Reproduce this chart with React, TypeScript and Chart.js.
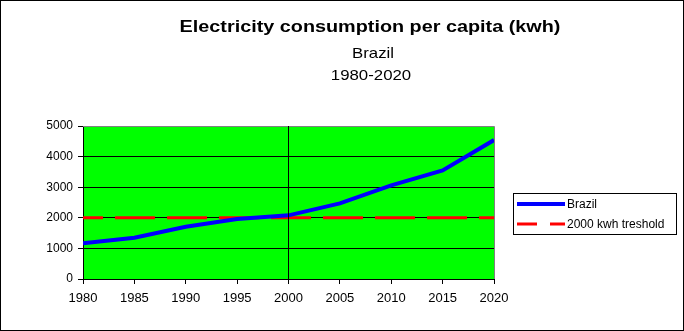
import React, { useEffect, useRef } from 'react';
import { Chart, registerables } from 'chart.js';

Chart.register(...registerables);

const years = [1980, 1985, 1990, 1995, 2000, 2005, 2010, 2015, 2020];
const brazilValues = [1170, 1350, 1710, 1960, 2080, 2470, 3060, 3550, 4540];
const thresholdYears = [1980, 2020];
const thresholdValues = [2000, 2000];
const markerYears = [2000, 2000];
const markerValues = [0, 5000];
const yMin = 0;
const yMax = 5000;
const yStep = 1000;
const xMin = 1980;
const xMax = 2020;
const xStep = 5;
const titleText = 'Electricity consumption per capita (kwh)';
const subtitleLines = ['Brazil', '1980-2020'];
const seriesLabels = ['Brazil', '2000 kwh treshold'];

const FONT = '"Liberation Sans", Arial, sans-serif';

function stretchedText(ctx: any, text: string, cx: number, y: number, sx: number) {
  ctx.save();
  ctx.translate(cx, y);
  ctx.scale(sx, 1);
  ctx.fillText(text, 0, 0);
  ctx.restore();
}

const decorPlugin = {
  id: 'decor',
  beforeDraw(chart: any) {
    const { ctx, chartArea: a, width, height } = chart;
    ctx.save();
    ctx.fillStyle = '#ffffff';
    ctx.fillRect(0, 0, width, height);
    ctx.fillStyle = '#00ff00';
    ctx.fillRect(a.left, a.top, a.right - a.left, a.bottom - a.top);
    ctx.restore();
  },
  beforeDatasetsDraw(chart: any) {
    const { ctx, chartArea: a } = chart;
    ctx.save();
    ctx.strokeStyle = '#808080';
    ctx.lineWidth = 1;
    ctx.beginPath();
    ctx.moveTo(a.left, Math.round(a.top) + 0.5);
    ctx.lineTo(Math.round(a.right) + 0.5, Math.round(a.top) + 0.5);
    ctx.lineTo(Math.round(a.right) + 0.5, a.bottom);
    ctx.stroke();
    ctx.restore();
  },
  afterDraw(chart: any) {
    const { ctx, width, height } = chart;
    ctx.save();
    // outer border
    ctx.strokeStyle = '#000';
    ctx.lineWidth = 1;
    ctx.strokeRect(0.5, 0.5, width - 1, height - 1);

    // titles
    ctx.fillStyle = '#000';
    ctx.textAlign = 'center';
    ctx.textBaseline = 'alphabetic';
    ctx.font = `bold 17px ${FONT}`;
    stretchedText(ctx, titleText, 370, 32, 1.165);
    ctx.font = `15px ${FONT}`;
    stretchedText(ctx, subtitleLines[0], 373, 58, 1.12);
    stretchedText(ctx, subtitleLines[1], 371, 80, 1.12);

    // legend
    const bx = 513, by = 193, bw = 163, bh = 41;
    ctx.fillStyle = '#fff';
    ctx.fillRect(bx, by, bw, bh);
    ctx.strokeStyle = '#000';
    ctx.strokeRect(bx + 0.5, by + 0.5, bw, bh);
    const ds = chart.data.datasets;
    const rows = [
      { d: ds[1], label: seriesLabels[0], y: 204, dash: [] as number[] },
      { d: ds[2], label: seriesLabels[1], y: 224, dash: [20, 13] },
    ];
    ctx.textAlign = 'left';
    ctx.textBaseline = 'middle';
    ctx.font = `12px ${FONT}`;
    rows.forEach((r) => {
      ctx.strokeStyle = r.d.borderColor;
      ctx.lineWidth = r.d.borderWidth;
      ctx.setLineDash(r.dash);
      ctx.beginPath();
      ctx.moveTo(517, r.y);
      ctx.lineTo(565, r.y);
      ctx.stroke();
      ctx.setLineDash([]);
      ctx.fillStyle = '#000';
      ctx.fillText(r.label, 567, r.y + 1);
    });
    ctx.restore();
  },
};

export default function App() {
  const ref = useRef<HTMLCanvasElement | null>(null);
  useEffect(() => {
    document.body.style.margin = '0';
    const canvas = ref.current;
    if (!canvas) return;
    const chart = new Chart(canvas, {
      type: 'line',
      data: {
        datasets: [
          {
            label: 'marker',
            data: markerYears.map((x, i) => ({ x, y: markerValues[i] })),
            borderColor: '#000000',
            borderWidth: 1,
            pointRadius: 0,
            order: 0,
          },
          {
            label: seriesLabels[0],
            data: years.map((x, i) => ({ x, y: brazilValues[i] })),
            borderColor: '#0000ff',
            borderWidth: 4,
            pointRadius: 0,
            order: 1,
          },
          {
            label: seriesLabels[1],
            data: thresholdYears.map((x, i) => ({ x, y: thresholdValues[i] })),
            borderColor: '#ff0000',
            borderWidth: 3,
            borderDash: [40, 12],
            borderDashOffset: 20,
            pointRadius: 0,
            order: 2,
          },
        ],
      },
      options: {
        responsive: false,
        animation: false,
        events: [],
        layout: { padding: { left: 0, top: 126, right: 190, bottom: 0 } },
        plugins: {
          legend: { display: false },
          title: { display: false },
          tooltip: { enabled: false },
        },
        scales: {
          x: {
            type: 'linear',
            min: xMin,
            max: xMax,
            afterFit: (s: any) => { s.height = 52; },
            ticks: {
              stepSize: xStep,
              color: '#000',
              font: { family: FONT, size: 13 },
              padding: 7,
              maxRotation: 0,
              callback: (v: any) => String(v),
            },
            grid: {
              drawOnChartArea: false,
              tickLength: 5,
              color: '#000',
              tickColor: '#000',
            },
            border: { display: true, color: '#000', width: 1 },
          },
          y: {
            min: yMin,
            max: yMax,
            afterFit: (s: any) => { s.width = 83; },
            ticks: {
              stepSize: yStep,
              color: '#000',
              font: { family: FONT, size: 12 },
              padding: 5,
              callback: (v: any) => String(v),
            },
            grid: {
              color: (c: any) => (c.tick && c.tick.value === yMax ? '#808080' : '#000'),
              tickColor: '#000',
              tickLength: 5,
              lineWidth: 1,
            },
            border: { display: true, color: '#000', width: 1 },
          },
        },
      },
      plugins: [decorPlugin],
    } as any);
    return () => chart.destroy();
  }, []);
  return (
    <div style={{ width: 684, height: 331 }}>
      <canvas ref={ref} width={684} height={331} style={{ display: 'block' }} />
    </div>
  );
}
